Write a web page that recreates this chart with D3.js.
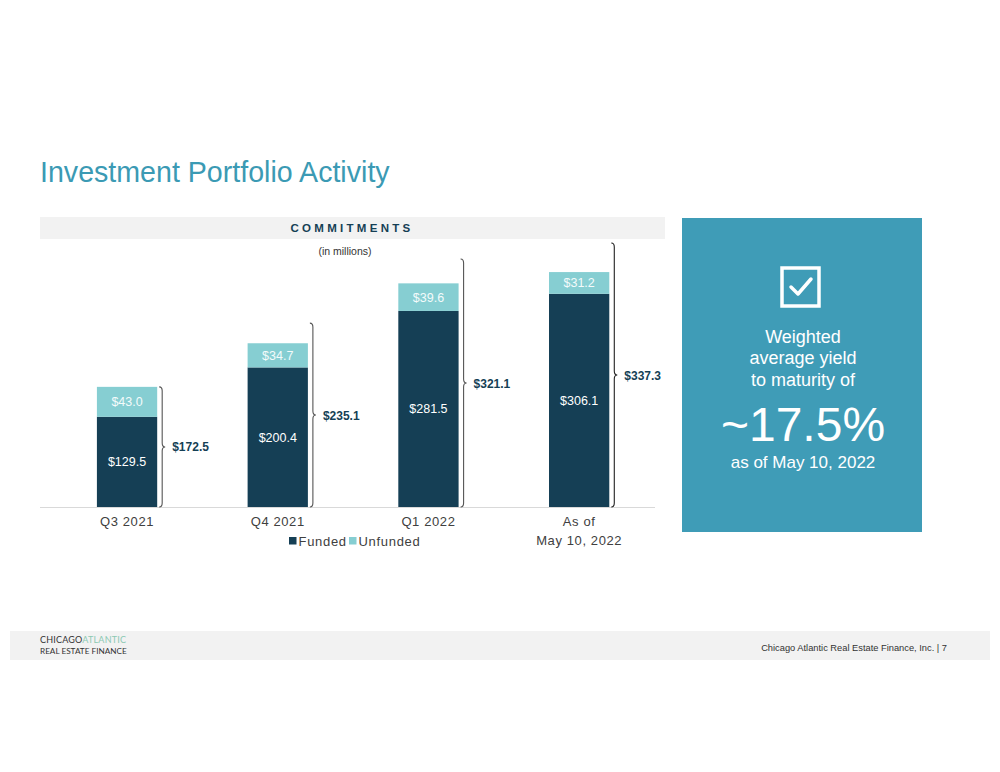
<!DOCTYPE html>
<html><head><meta charset="utf-8">
<script src="https://cdn.jsdelivr.net/npm/d3@7"></script>
<style>
html,body{margin:0;padding:0;background:#fff;}
svg{display:block;font-family:"Liberation Sans",Arial,sans-serif;}
</style></head>
<body>
<svg id="c" width="1000" height="772"></svg>
<script>
const categories = ["Q3 2021", "Q4 2021", "Q1 2022", "As of\nMay 10, 2022"];
const funded = [129.5, 200.4, 281.5, 306.1];
const unfunded = [43.0, 34.7, 39.6, 31.2];
const totals = [172.5, 235.1, 321.1, 337.3];
const braceTop = [172.5, 264, 356, 379];
const seriesNames = ["Funded", "Unfunded"];

const colors = {Funded: "#153f55", Unfunded: "#86ced2"};
const svg = d3.select("#c");

// title
svg.append("text").attr("x", 40).attr("y", 182).attr("font-size", 28.6)
  .attr("fill", "#3b9ab4").text("Investment Portfolio Activity");

// commitments banner
svg.append("rect").attr("x", 40).attr("y", 217).attr("width", 625).attr("height", 22).attr("fill", "#f2f2f2");
svg.append("text").attr("x", 352).attr("y", 232).attr("text-anchor", "middle")
  .attr("font-size", 11.5).attr("font-weight", "bold").attr("letter-spacing", 3.3)
  .attr("fill", "#153f55").text("COMMITMENTS");
svg.append("text").attr("x", 345).attr("y", 255).attr("text-anchor", "middle")
  .attr("font-size", 10.5).attr("fill", "#333").text("(in millions)");

const x = d3.scaleBand().domain(categories).range([51.7, 654.5]).paddingInner(0.6).paddingOuter(0.3);
const y = d3.scaleLinear().domain([0, 400]).range([507, 507 - 400 * 0.6965]);

const rows = categories.map((c, i) => ({cat: c, Funded: funded[i], Unfunded: unfunded[i]}));
const stack = d3.stack().keys(seriesNames)(rows);

// axis baseline
svg.append("line").attr("x1", 40).attr("x2", 655).attr("y1", y(0) + 0.5).attr("y2", y(0) + 0.5)
  .attr("stroke", "#d9d9d9").attr("stroke-width", 1);

const g = svg.append("g");
stack.forEach(s => {
  g.selectAll(null).data(s).enter().append("rect")
    .attr("x", d => x(d.data.cat))
    .attr("width", x.bandwidth())
    .attr("y", d => y(d[1]))
    .attr("height", d => y(d[0]) - y(d[1]))
    .attr("fill", colors[s.key]);
  g.selectAll(null).data(s).enter().append("text")
    .attr("x", d => x(d.data.cat) + x.bandwidth() / 2)
    .attr("y", d => (y(d[0]) + y(d[1])) / 2 + 4.5)
    .attr("text-anchor", "middle").attr("font-size", 12.5)
    .attr("fill", s.key === "Funded" ? "#ffffff" : "#f4fbfb")
    .text(d => "$" + (d[1] - d[0]).toFixed(1));
});

// braces
categories.forEach((c, i) => {
  const x0 = x(c) + x.bandwidth() + 2, w = 6, xm = x0 + w / 2, x1 = x0 + w;
  const yT = y(braceTop[i]), yB = y(0), yM = (yT + yB) / 2, r = 4;
  const p = `M${x0},${yT} Q${xm},${yT} ${xm},${yT + r} L${xm},${yM - r} Q${xm},${yM} ${x1},${yM} Q${xm},${yM} ${xm},${yM + r} L${xm},${yB - r} Q${xm},${yB} ${x0},${yB}`;
  svg.append("path").attr("d", p).attr("fill", "none")
    .attr("stroke", i === 3 ? "#222" : "#555").attr("stroke-width", 1.1);
  svg.append("text").attr("x", x1 + 7).attr("y", yM + 4.5)
    .attr("font-size", 12).attr("font-weight", "bold").attr("fill", "#153f55")
    .text("$" + totals[i].toFixed(1));
});

// category labels
const xAxis = svg.append("g");
categories.forEach(c => {
  const lines = c.split("\n");
  const t = xAxis.append("text").attr("x", x(c) + x.bandwidth() / 2).attr("y", 526)
    .attr("text-anchor", "middle").attr("font-size", 13).attr("letter-spacing", 0.6).attr("fill", "#404040");
  lines.forEach((l, k) => t.append("tspan").attr("x", x(c) + x.bandwidth() / 2).attr("dy", k ? 19 : 0).text(l));
});

// legend
const leg = svg.append("g");
const legX = [289, 349];
seriesNames.forEach((n, i) => {
  leg.append("rect").attr("x", legX[i]).attr("y", 537).attr("width", 7.5).attr("height", 7.5).attr("fill", colors[n]);
  leg.append("text").attr("x", legX[i] + 9.5).attr("y", 545.5).attr("font-size", 13)
    .attr("letter-spacing", 0.7).attr("fill", "#404040").text(n);
});

// right panel
svg.append("rect").attr("x", 682).attr("y", 218).attr("width", 240).attr("height", 314).attr("fill", "#3f9cb7");
svg.append("rect").attr("x", 782).attr("y", 268).attr("width", 37).attr("height", 38)
  .attr("fill", "none").attr("stroke", "#fff").attr("stroke-width", 3.5);
svg.append("path").attr("d", "M791,287 L798,294 L811,279").attr("fill", "none")
  .attr("stroke", "#fff").attr("stroke-width", 3.5).attr("stroke-linecap", "round").attr("stroke-linejoin", "round");
const pt = [["Weighted", 343, 18], ["average yield", 364, 18], ["to maturity of", 386, 18], ["~17.5%", 441, 48], ["as of May 10, 2022", 468, 17]];
pt.forEach(d => svg.append("text").attr("x", 803).attr("y", d[1]).attr("text-anchor", "middle")
  .attr("font-size", d[2]).attr("fill", "#fff").text(d[0]));

// footer
svg.append("rect").attr("x", 10).attr("y", 631).attr("width", 980).attr("height", 29).attr("fill", "#f2f2f2");
const lg = svg.append("text").attr("x", 40).attr("y", 643).attr("font-size", 9).attr("letter-spacing", 0.2).attr("fill", "#333")
  .attr("font-family", "Lato, 'Liberation Sans', sans-serif");
lg.append("tspan").text("CHICAGO");
lg.append("tspan").attr("fill", "#8cc9b2").text("ATLANTIC");
svg.append("text").attr("x", 40).attr("y", 654).attr("font-size", 8.2).attr("fill", "#333")
  .attr("font-family", "Lato, 'Liberation Sans', sans-serif").text("REAL ESTATE FINANCE");
svg.append("text").attr("x", 947).attr("y", 651).attr("text-anchor", "end").attr("font-size", 9.3)
  .attr("fill", "#333").text("Chicago Atlantic Real Estate Finance, Inc. |  7");
</script>
</body></html>
